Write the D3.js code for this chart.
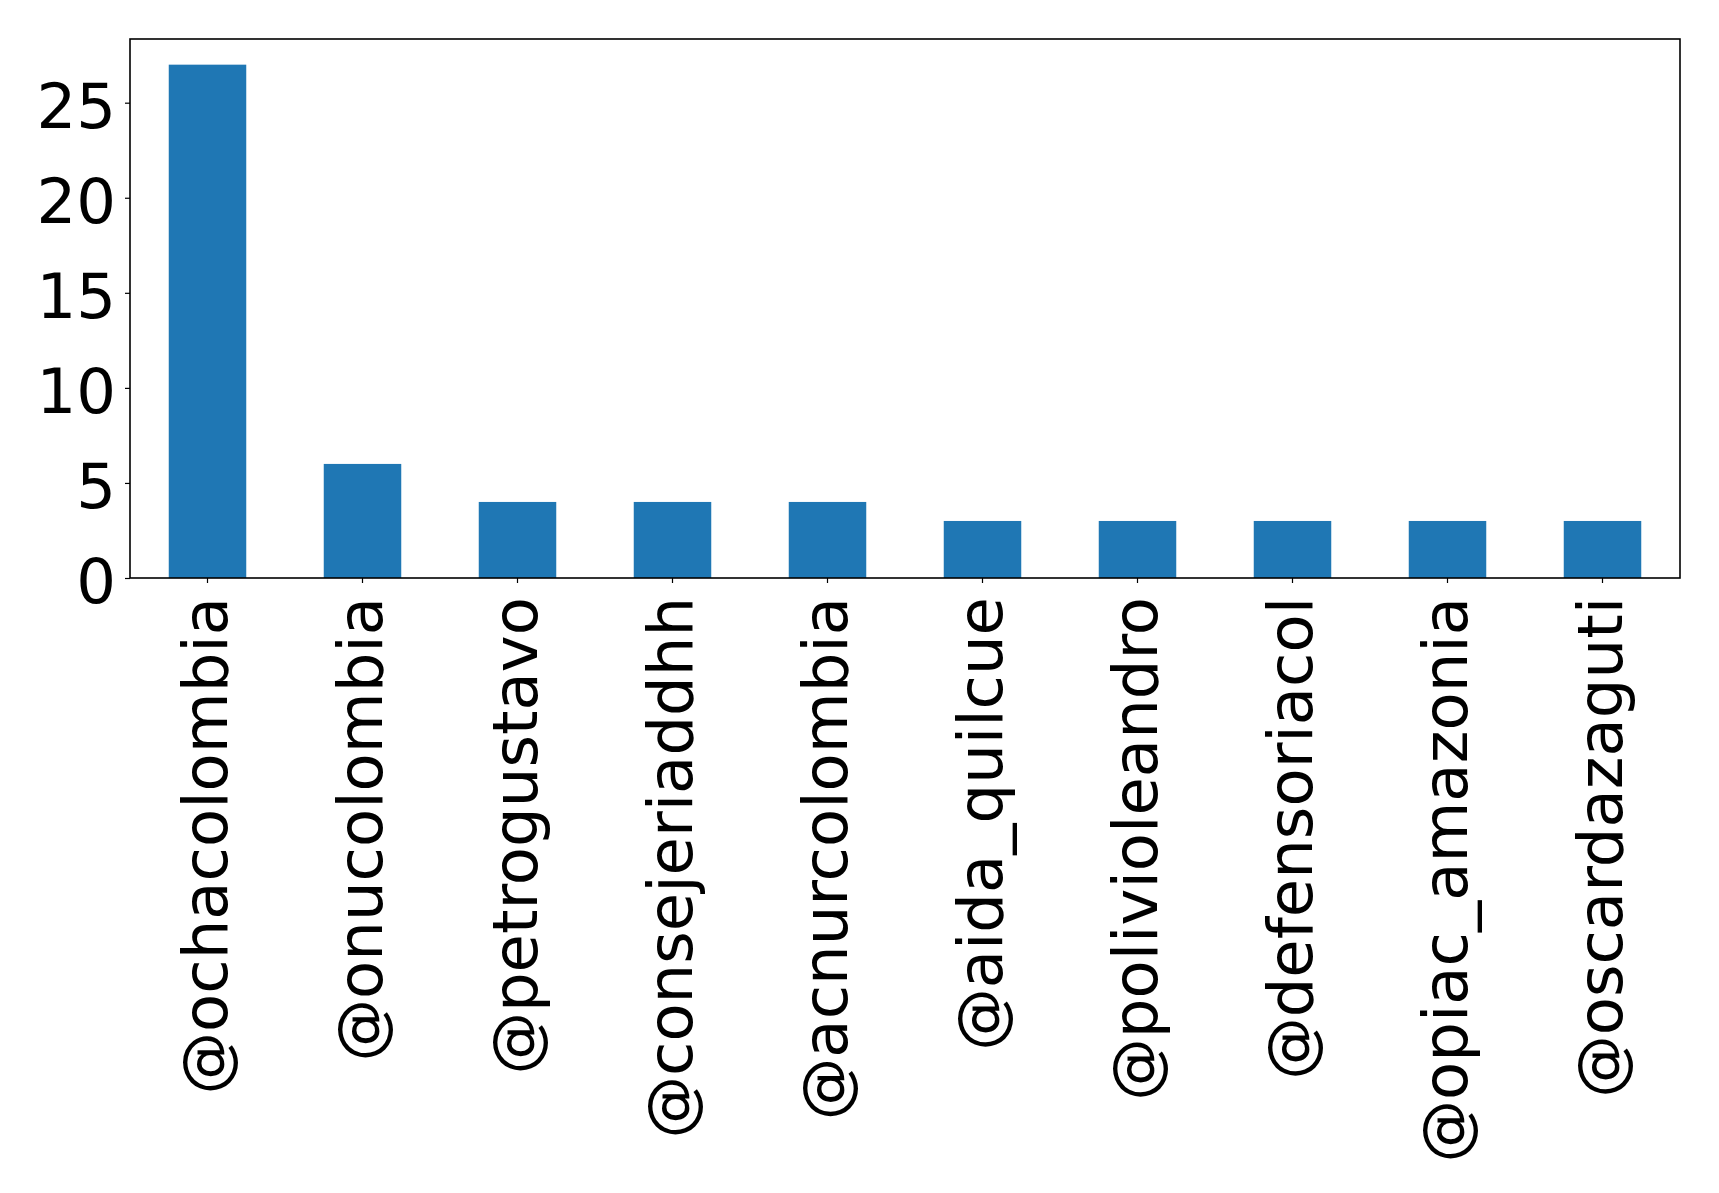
<!DOCTYPE html>
<html><head><meta charset="utf-8">
<script src="https://cdn.jsdelivr.net/npm/d3@7"></script>
<style>body{margin:0;background:#fff}</style>
</head><body>
<svg id="chart" width="1719" height="1193"></svg>
<script>
const categories = ["@ochacolombia","@onucolombia","@petrogustavo","@consejeriaddhh","@acnurcolombia","@aida_quilcue","@polivioleandro","@defensoriacol","@opiac_amazonia","@oscardazaguti"];
const values = [27, 6, 4, 4, 4, 3, 3, 3, 3, 3];
const yTicks = [0, 5, 10, 15, 20, 25];

const svg = d3.select("#chart");
const m = {left:130, top:39, right:1680, bottom:578};
const x = d3.scaleBand().domain(categories).range([m.left, m.right]).paddingInner(0.5).paddingOuter(0.25);
const y = d3.scaleLinear().domain([0, d3.max(values)*1.05]).range([m.bottom, m.top]);
const font = "DejaVu Sans";

svg.append("g").selectAll("rect").data(values).join("rect")
  .attr("x", (d,i)=>x(categories[i]))
  .attr("y", d=>y(d))
  .attr("width", x.bandwidth())
  .attr("height", d=>y(0)-y(d))
  .attr("fill", "#1f77b4");

svg.append("rect").attr("x", m.left).attr("y", m.top)
  .attr("width", m.right-m.left).attr("height", m.bottom-m.top)
  .attr("fill","none").attr("stroke","#000").attr("stroke-width",1.6);

const ya = svg.append("g").attr("transform", `translate(${m.left},0)`)
  .call(d3.axisLeft(y).tickValues(yTicks).tickSize(5).tickPadding(9).tickFormat(d3.format("d")));
ya.select(".domain").remove();
ya.selectAll("text").attr("font-family", font).attr("font-size", 62.5).attr("fill","#000").attr("dy","0.39em");
ya.selectAll("line").attr("stroke","#000").attr("stroke-width",1.2);

const xa = svg.append("g").attr("transform", `translate(0,${m.bottom})`)
  .call(d3.axisBottom(x).tickSize(5).tickPadding(0));
xa.select(".domain").remove();
xa.selectAll("line").attr("stroke","#000").attr("stroke-width",1.2);
xa.selectAll("text").attr("font-family", font).attr("font-size", 62.5).attr("fill","#000")
  .attr("text-anchor","end").attr("dy","0.31em")
  .attr("transform","translate(0,19) rotate(-90)").attr("x",0).attr("y",0);
</script>
</body></html>
